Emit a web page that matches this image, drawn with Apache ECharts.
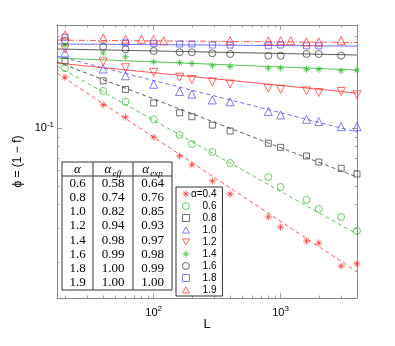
<!DOCTYPE html>
<html><head><meta charset="utf-8">
<script src="https://cdn.jsdelivr.net/npm/echarts@6/dist/echarts.min.js"></script>
<style>html,body{margin:0;padding:0;background:#fff}#c{width:395px;height:346px}</style>
</head><body><div id="c"></div>
<script>
// ---------- data ----------
const seriesNames = ['α=0.4','0.6','0.8','1.0','1.2','1.4','1.6','1.8','1.9'];
const L_a04 = [20,40,60,100,160,200,290,400,800,1000,1600,2000,3000,4000];
const phi_a04 = [0.184,0.132,0.114,0.0895,0.0715,0.0642,0.053,0.0453,0.0344,0.0305,0.0258,0.0252,0.0191,0.0196];
const L_a06 = [20,40,60,100,160,200,290,400,800,1000,1600,2000,3000,4000];
const phi_a06 = [0.205,0.156,0.137,0.111,0.092,0.0825,0.075,0.0657,0.0556,0.0493,0.0422,0.0379,0.0344,0.0291];
const L_a08 = [20,40,60,100,160,200,290,400,800,1000,1600,2000,3000,4000];
const phi_a08 = [0.224,0.176,0.159,0.135,0.120,0.1145,0.1036,0.0965,0.0833,0.0793,0.0715,0.0665,0.0617,0.0576];
const L_a10 = [20,40,60,100,160,200,290,400,800,1000,1600,2000,3000,4000];
const phi_a10 = [0.246,0.203,0.187,0.169,0.155,0.150,0.140,0.137,0.122,0.117,0.111,0.108,0.1016,0.1016];
const L_a12 = [20,40,60,100,160,200,290,400,800,1000,1600,2000,3000,4000];
const phi_a12 = [0.258,0.221,0.206,0.195,0.184,0.179,0.174,0.1695,0.161,0.159,0.156,0.153,0.155,0.149];
const L_a14 = [20,40,60,100,160,200,290,400,800,1000,1600,2000,3000,4000];
const phi_a14 = [0.270,0.246,0.235,0.221,0.219,0.217,0.211,0.209,0.205,0.205,0.202,0.202,0.199,0.2005];
const L_a16 = [20,40,60,100,160,200,290,400,800,1000,1600,2000,3000];
const phi_a16 = [0.285,0.265,0.257,0.252,0.248,0.248,0.245,0.243,0.238,0.238,0.243,0.243,0.238];
const L_a18 = [20,60,100,160,200,290,400,800,1000,1600,2000];
const phi_a18 = [0.297,0.278,0.276,0.274,0.274,0.2705,0.2705,0.268,0.2705,0.268,0.268];
const L_a19 = [20,40,60,80,100,120,400,800,1000,1200,1600,2000,3000];
const phi_a19 = [0.305,0.294,0.290,0.290,0.290,0.285,0.285,0.285,0.285,0.285,0.281,0.281,0.285];

// fitted power-law lines (end points at the axis limits)
const fitL = [17.3, 4000];
const fit_a04 = [0.193, 0.0178];
const fit_a06 = [0.210, 0.028];
const fit_a08 = [0.221, 0.0556];
const fit_a10 = [0.237, 0.0953];
const fit_a12 = [0.218, 0.152];
const fit_a14 = [0.2315, 0.2005];
const fit_a16 = [0.258, 0.240];
const fit_a18 = [0.274, 0.267];
const fit_a19 = [0.287, 0.279];

// table
const tableHeader = ['α', 'α_eff', 'α_exp'];
const tableAlpha = ['0.6','0.8','1.0','1.2','1.4','1.6','1.8','1.9'];
const tableEff = ['0.58','0.74','0.82','0.94','0.98','0.99','1.00','1.00'];
const tableExp = ['0.64','0.76','0.85','0.93','0.97','0.98','0.99','1.00'];

// axes
const xRange = [17.3, 4000];
const yRange = [0.01302, 0.344];
const xMajorTicks = [100, 1000];
const xMinorTicks = [20,30,40,50,60,70,80,90,200,300,400,500,600,700,800,900,2000,3000,4000];
const yMajorTicks = [0.1];
const yMinorTicks = [0.02,0.03,0.04,0.05,0.06,0.07,0.08,0.09,0.2,0.3];
const xLabel = 'L';
const yLabel = 'ϕ = (1 − f)';

// ---------- styles ----------
const RED = '#ff2a2a', GREEN = '#2fb52f', BLACK = '#333333', BLUE = '#4a4aff';
const STAR = 'path://M5,0L5,10M0,5L10,5M1.6,1.6L8.4,8.4M1.6,8.4L8.4,1.6';
const TRI_DOWN = 'path://M0,0L10,0L5,8.66Z';
const TRI_UP = 'path://M5,0L10,8.66L0,8.66Z';
const defs = [
  {L: L_a04, v: phi_a04, fit: fit_a04, color: RED,   symbol: STAR,     size: 7, dash: [4,3]},
  {L: L_a06, v: phi_a06, fit: fit_a06, color: GREEN, symbol: 'circle', size: 7, dash: [4,3]},
  {L: L_a08, v: phi_a08, fit: fit_a08, color: BLACK, symbol: 'rect',   size: 6, dash: [4,3]},
  {L: L_a10, v: phi_a10, fit: fit_a10, color: BLUE,  symbol: TRI_UP,   size: 8, dash: [4,3]},
  {L: L_a12, v: phi_a12, fit: fit_a12, color: RED,   symbol: TRI_DOWN, size: 8, dash: 'solid'},
  {L: L_a14, v: phi_a14, fit: fit_a14, color: GREEN, symbol: STAR,     size: 7, dash: 'solid'},
  {L: L_a16, v: phi_a16, fit: fit_a16, color: BLACK, symbol: 'circle', size: 7, dash: 'solid'},
  {L: L_a18, v: phi_a18, fit: fit_a18, color: BLUE,  symbol: 'rect',   size: 6, dash: 'solid'},
  {L: L_a19, v: phi_a19, fit: fit_a19, color: RED,   symbol: TRI_UP,   size: 8, dash: [6,2,1,2]}
];

const FONT = 'Liberation Sans';
const SERIF = 'Liberation Serif';
const AX = '#8a8a8a';

const series = [];
defs.forEach((d, i) => {
  series.push({
    type: 'line', silent: true, symbol: 'none', z: 2,
    data: d.fit.map((v, k) => [fitL[k], v]),
    lineStyle: {color: d.color, width: 0.8, type: d.dash}
  });
});
defs.forEach((d, i) => {
  series.push({
    name: seriesNames[i], type: 'scatter', z: 3,
    symbol: d.symbol, symbolSize: d.size,
    data: d.L.map((x, k) => [x, d.v[k]]),
    itemStyle: {color: 'rgba(0,0,0,0)', borderColor: d.color, borderWidth: 0.9}
  });
});

function xAxisDef(pos, ticks, len, showLine, showLabel) {
  return {
    type: 'log', position: pos, min: xRange[0], max: xRange[1],
    name: showLabel ? xLabel : '', nameLocation: 'middle', nameGap: 20, nameMoveOverlap: false,
    nameTextStyle: {fontFamily: FONT, fontSize: 13, color: '#000'},
    axisLine: {show: showLine, onZero: false, lineStyle: {color: AX, width: 1}},
    axisTick: {show: true, inside: true, length: len, customValues: ticks, lineStyle: {color: AX, width: 0.8}},
    axisLabel: {show: showLabel, customValues: xMajorTicks, margin: 7,
      formatter: v => '{b|10}{s|' + Math.round(Math.log10(v)) + '}',
      rich: {b: {fontFamily: FONT, fontSize: 11, color: '#000', lineHeight: 15},
             s: {fontFamily: FONT, fontSize: 8, color: '#000', lineHeight: 8, verticalAlign: 'top'}}},
    splitLine: {show: false}, minorTick: {show: false}
  };
}
function yAxisDef(pos, ticks, len, showLine, showLabel) {
  return {
    type: 'log', position: pos, min: yRange[0], max: yRange[1],
    name: showLabel ? yLabel : '', nameLocation: 'middle', nameGap: 26, nameRotate: 90,
    nameTextStyle: {fontFamily: FONT, fontSize: 12, color: '#000'},
    axisLine: {show: showLine, onZero: false, lineStyle: {color: AX, width: 1}},
    axisTick: {show: true, inside: true, length: len, customValues: ticks, lineStyle: {color: AX, width: 0.8}},
    axisLabel: {show: showLabel, customValues: yMajorTicks, margin: 3,
      formatter: v => '{b|10}{s|' + Math.round(Math.log10(v)) + '}',
      rich: {b: {fontFamily: FONT, fontSize: 11, color: '#000', lineHeight: 15},
             s: {fontFamily: FONT, fontSize: 8, color: '#000', lineHeight: 8, verticalAlign: 'top'}}},
    splitLine: {show: false}, minorTick: {show: false}
  };
}

// table graphic
const T = {x: 62, y: 162, w: 110, h: 128, cols: [62, 93, 133, 172], headY: 176, row0: 183.3, rowH: 14.2};
const tg = [];
tg.push({type: 'rect', shape: {x: T.x, y: T.y, width: T.w, height: T.h}, style: {fill: '#fff', stroke: '#333', lineWidth: 1}});
tg.push({type: 'line', shape: {x1: T.x, y1: T.headY, x2: T.x + T.w, y2: T.headY}, style: {stroke: '#333', lineWidth: 1}});
[T.cols[1], T.cols[2]].forEach(cx => tg.push({type: 'line', shape: {x1: cx, y1: T.y, x2: cx, y2: T.y + T.h}, style: {stroke: '#333', lineWidth: 1}}));
const colC = [0,1,2].map(k => (T.cols[k] + T.cols[k+1]) / 2);
tableHeader.forEach((h, k) => {
  const parts = h.split('_');
  const txt = '{i|' + parts[0] + '}' + (parts[1] ? '{s|' + parts[1] + '}' : '');
  tg.push({type: 'text', x: colC[k], y: (T.y + T.headY) / 2 + 1, style: {
    text: txt, align: 'center', verticalAlign: 'middle',
    rich: {i: {fontFamily: SERIF, fontStyle: 'italic', fontSize: 13, lineHeight: 16, fill: '#000'},
           s: {fontFamily: SERIF, fontStyle: 'italic', fontSize: 9, lineHeight: 9, verticalAlign: 'bottom', fill: '#000', padding: [0, 0, 0, 1]}}
  }});
});
[tableAlpha, tableEff, tableExp].forEach((col, k) => {
  col.forEach((t, r) => {
    tg.push({type: 'text', x: colC[k], y: T.row0 + r * T.rowH, style: {
      text: t, align: 'center', verticalAlign: 'middle', fontFamily: SERIF, fontSize: 13, fill: '#000'}});
  });
});

const chart = echarts.init(document.getElementById('c'), null, {renderer: 'canvas'});
chart.setOption({
  animation: false,
  backgroundColor: '#fff',
  textStyle: {fontFamily: FONT},
  grid: {left: 57, right: 38, top: 25, bottom: 48, containLabel: false},
  xAxis: [
    xAxisDef('bottom', xMinorTicks, 2.5, true, true),
    xAxisDef('bottom', xMajorTicks, 5, false, false),
    xAxisDef('top', xMinorTicks, 2.5, true, false),
    xAxisDef('top', xMajorTicks, 5, false, false)
  ],
  yAxis: [
    yAxisDef('left', yMinorTicks, 2.5, true, true),
    yAxisDef('left', yMajorTicks, 5, false, false),
    yAxisDef('right', yMinorTicks, 2.5, true, false),
    yAxisDef('right', yMajorTicks, 5, false, false)
  ],
  legend: {
    data: seriesNames, orient: 'vertical', left: 176, top: 187,
    itemWidth: 7, itemHeight: 7, itemGap: 0, padding: [1, 6, 0, 6],
    backgroundColor: '#fff', borderColor: '#333', borderWidth: 1, borderRadius: 0,
    itemStyle: {borderWidth: 0.9}, selectedMode: false,
    formatter: n => '{r|' + n + '}',
    textStyle: {lineHeight: 12, rich: {r: {fontFamily: FONT, fontSize: 10, lineHeight: 12, height: 12, color: '#000', width: 22, align: 'right'}}}
  },
  graphic: [{type: 'group', z: 50, children: tg}],
  series: series
});
</script></body></html>
